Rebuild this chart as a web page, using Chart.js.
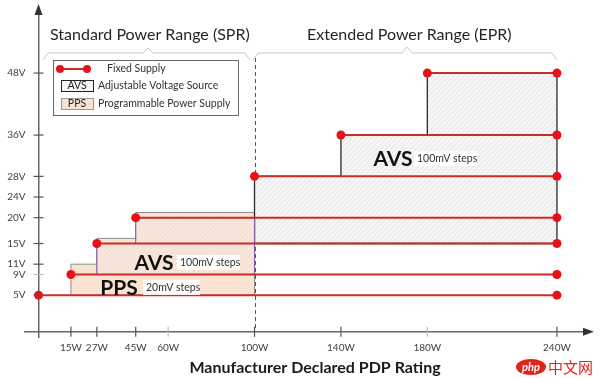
<!DOCTYPE html>
<html>
<head>
<meta charset="utf-8">
<script src="https://cdn.jsdelivr.net/npm/chart.js@4.4.0/dist/chart.umd.min.js"></script>
<style>
  html, body { margin:0; padding:0; background:#fff; }
  #wrap { width:600px; height:378px; }
</style>
</head>
<body>
<div id="wrap"><canvas id="myChart" width="600" height="378"></canvas></div>
<script>
// tick labels on both axes
var voltTicks = [5, 9, 11, 15, 20, 24, 28, 36, 48]
var wattTicks = [15, 27, 45, 60, 100, 140, 180, 240]
var faintTicks = [9, 60, 180]

// fixed supply rails: voltage, from watt, to watt
var fixedVolts = [5, 9, 15, 20, 28, 36, 48]
var fixedStart = [0, 15, 27, 45, 100, 140, 180]
var fixedEnd   = [240, 240, 240, 240, 240, 240, 240]

// PPS area (SPR)
var ppsWatts = [15, 15, 27, 27, 45, 45, 100, 100, 15]
var ppsVolts = [5, 11, 11, 16, 16, 21, 21, 5, 5]

// AVS area (SPR)
var avsSprWatts = [27, 27, 45, 45, 100, 100, 27]
var avsSprVolts = [9, 15, 15, 20, 20, 9, 9]

// AVS area (EPR)
var avsEprWatts = [100, 100, 140, 140, 180, 180, 240, 240, 100]
var avsEprVolts = [15, 28, 28, 36, 36, 48, 48, 15, 15]

var FONT = 'Lato, "Open Sans", sans-serif'
var canvas = document.getElementById('myChart')
var ctx = canvas.getContext('2d')

function pts(xs, ys){
    var out = []
    for (i = 0; i < xs.length; i++){
        out.push({x: xs[i], y: ys[i]})
    }
    return out
}

function hatch(base, line){
    var c = document.createElement('canvas')
    c.width = 5; c.height = 5
    var g = c.getContext('2d')
    g.fillStyle = base
    g.fillRect(0, 0, 5, 5)
    g.strokeStyle = line
    g.lineWidth = 0.8
    g.beginPath()
    g.moveTo(0, 5); g.lineTo(5, 0)
    g.moveTo(-2.5, 2.5); g.lineTo(2.5, -2.5)
    g.moveTo(2.5, 7.5); g.lineTo(7.5, 2.5)
    g.stroke()
    return ctx.createPattern(c, 'repeat')
}

var datasets = []
for (i = 0; i < fixedVolts.length; i++){
    datasets.push({
        label: 'Fixed Supply',
        data: [{x: fixedStart[i], y: fixedVolts[i]}, {x: fixedEnd[i], y: fixedVolts[i]}],
        borderColor: '#cc2b27',
        borderWidth: 2,
        pointRadius: 4.5,
        pointBackgroundColor: '#e8111b',
        pointBorderWidth: 0,
        fill: false,
        clip: false,
        order: 1
    })
}
datasets.push({
    label: 'AVS SPR',
    data: pts(avsSprWatts, avsSprVolts),
    borderColor: '#8463ac',
    borderWidth: 1.2,
    backgroundColor: hatch('#f9e6da', '#ecdad0'),
    fill: 'shape',
    pointRadius: 0,
    order: 3
})
datasets.push({
    label: 'AVS EPR',
    data: pts(avsEprWatts, avsEprVolts),
    borderColor: '#2b2b2b',
    borderWidth: 1.3,
    backgroundColor: hatch('#f5f5f5', '#e0e0e0'),
    fill: 'shape',
    pointRadius: 0,
    order: 4
})
datasets.push({
    label: 'PPS',
    data: pts(ppsWatts, ppsVolts),
    borderColor: '#8c8c8c',
    borderWidth: 1,
    backgroundColor: '#fbe3d2',
    fill: 'shape',
    pointRadius: 0,
    order: 5
})

function text(c, s, x, y, font, color, align){
    c.font = font
    c.fillStyle = color
    c.textAlign = align || 'left'
    c.textBaseline = 'middle'
    c.fillText(s, x, y)
}

//Background bits: dashed 100W divider
var behind = {
    id: 'behind',
    beforeDatasetsDraw: function(chart){
        var c = chart.ctx, xs = chart.scales.x, ys = chart.scales.y
        var px = Math.round(xs.getPixelForValue(100)) + 0.5
        c.save()
        c.strokeStyle = '#555'
        c.lineWidth = 1
        c.setLineDash([4, 3])
        c.beginPath()
        c.moveTo(px, 58)
        c.lineTo(px, ys.getPixelForValue(-2.1))
        c.stroke()
        c.restore()
    }
}

//Foreground bits: axes arrows, tick marks, labels, legend, braces
var front = {
    id: 'front',
    afterDatasetsDraw: function(chart){
        var c = chart.ctx, xs = chart.scales.x, ys = chart.scales.y
        var ax = xs.getPixelForValue(0), ay = ys.getPixelForValue(-2.1)
        c.save()
        // tick marks across axes + volt labels
        c.lineWidth = 1.2
        for (i = 0; i < voltTicks.length; i++){
            var py = ys.getPixelForValue(voltTicks[i])
            c.strokeStyle = faintTicks.indexOf(voltTicks[i]) >= 0 ? '#bbb' : '#555'
            c.beginPath(); c.moveTo(ax - 5, py); c.lineTo(ax + 5, py); c.stroke()
            text(c, voltTicks[i] + 'V', ax - 13, py, '10px ' + FONT, '#404040', 'right')
        }
        for (i = 0; i < wattTicks.length; i++){
            var px = xs.getPixelForValue(wattTicks[i])
            c.strokeStyle = faintTicks.indexOf(wattTicks[i]) >= 0 ? '#bbb' : '#555'
            c.beginPath(); c.moveTo(px, ay - 5); c.lineTo(px, ay + 5); c.stroke()
        }
        // arrows
        c.fillStyle = '#333'
        c.beginPath(); c.moveTo(ax, 4); c.lineTo(ax - 4, 15); c.lineTo(ax + 4, 15); c.closePath(); c.fill()
        c.beginPath(); c.moveTo(594, ay); c.lineTo(583, ay - 4); c.lineTo(583, ay + 4); c.closePath(); c.fill()

        // braces
        c.strokeStyle = '#c8c8c8'
        c.lineWidth = 1
        c.beginPath()
        c.moveTo(43, 60); c.lineTo(48, 53); c.lineTo(143, 53); c.lineTo(148, 48); c.lineTo(153, 53); c.lineTo(245, 53); c.lineTo(250, 60)
        c.moveTo(253, 60); c.lineTo(258, 53); c.lineTo(402, 53); c.lineTo(407, 47); c.lineTo(412, 53); c.lineTo(552, 53); c.lineTo(557, 60)
        c.stroke()
        text(c, 'Standard Power Range (SPR)', 50, 35, '16px ' + FONT, '#262626')
        text(c, 'Extended Power Range (EPR)', 307, 35, '16px ' + FONT, '#262626')

        // area labels
        var tags = [
            ['AVS', 393, 158, '100mV steps', 414, 477],
            ['AVS', 154, 262, '100mV steps', 177, 240],
            ['PPS', 119, 287, '20mV steps', 143, 200]
        ]
        for (i = 0; i < tags.length; i++){
            var t = tags[i]
            text(c, t[0], t[1], t[2] + 1, 'bold 21px ' + FONT, '#111', 'center')
            c.fillStyle = 'rgba(255,255,255,0.9)'
            c.fillRect(t[4], t[2] - 7, t[5] - t[4], 15)
            text(c, t[3], t[4] + 3, t[2] + 1, '10.5px ' + FONT, '#333')
        }

        // legend
        c.fillStyle = '#fff'
        c.fillRect(53, 60, 185, 55)
        c.strokeStyle = '#666'
        c.lineWidth = 1
        c.strokeRect(53.5, 60.5, 185, 55)
        c.strokeStyle = '#cc2b27'; c.lineWidth = 2
        c.beginPath(); c.moveTo(60, 69); c.lineTo(87, 69); c.stroke()
        c.fillStyle = '#e8111b'
        c.beginPath(); c.arc(60, 69, 4, 0, Math.PI * 2); c.fill()
        c.beginPath(); c.arc(87, 69, 4, 0, Math.PI * 2); c.fill()
        text(c, 'Fixed Supply', 107, 69, '10.5px ' + FONT, '#333')
        c.lineWidth = 1
        c.fillStyle = '#f4f4f4'; c.fillRect(61, 80, 32, 11)
        c.strokeStyle = '#222'; c.strokeRect(61.5, 80.5, 32, 11)
        text(c, 'AVS', 77, 86, '10.5px ' + FONT, '#222', 'center')
        text(c, 'Adjustable Voltage Source', 98, 86, '10.5px ' + FONT, '#333')
        c.fillStyle = '#fbe3d2'; c.fillRect(61, 98, 32, 11)
        c.strokeStyle = '#999'; c.strokeRect(61.5, 98.5, 32, 11)
        text(c, 'PPS', 77, 104, '10.5px ' + FONT, '#222', 'center')
        text(c, 'Programmable Power Supply', 98, 104, '10.5px ' + FONT, '#333')

        // axis title
        text(c, 'Manufacturer Declared PDP Rating', 315, 368, 'bold 16px ' + FONT, '#1a1a1a', 'center')

        // watermark
        c.fillStyle = '#e2231a'
        c.beginPath(); c.ellipse(531, 367, 15, 8, 0, 0, Math.PI * 2); c.fill()
        text(c, 'php', 531, 367, 'italic bold 11px ' + FONT, '#fff', 'center')
        text(c, '中文网', 548, 367, '15px "Noto Sans CJK SC"', '#e2231a')
        c.restore()
    }
}

var myChart = new Chart(ctx, {
    type: 'line',
    data: {datasets: datasets},
    options: {
        responsive: false,
        animation: false,
        layout: {padding: {left: 25, top: 8, right: 10, bottom: 41}},
        elements: {line: {tension: 0}},
        plugins: {legend: {display: false}, tooltip: {enabled: false}},
        scales: {
            x: {
                type: 'linear', min: -6.25, max: 255.3,
                position: {y: -2.1},
                afterBuildTicks: function(s){ s.ticks = wattTicks.map(function(v){ return {value: v} }) },
                grid: {display: false, drawTicks: false},
                border: {display: true, color: '#666', width: 1.5},
                ticks: {
                    callback: function(v){ return v + 'W' },
                    font: {size: 10, family: FONT}, color: '#404040', padding: 10,
                    maxRotation: 0, autoSkip: false
                }
            },
            y: {
                type: 'linear', min: -3.1, max: 60.6,
                position: {x: 0},
                afterBuildTicks: function(s){ s.ticks = voltTicks.map(function(v){ return {value: v} }) },
                grid: {display: false, drawTicks: false},
                border: {display: true, color: '#666', width: 1.5},
                ticks: {display: false, autoSkip: false}
            }
        }
    },
    plugins: [behind, front]
});
</script>
</body>
</html>
